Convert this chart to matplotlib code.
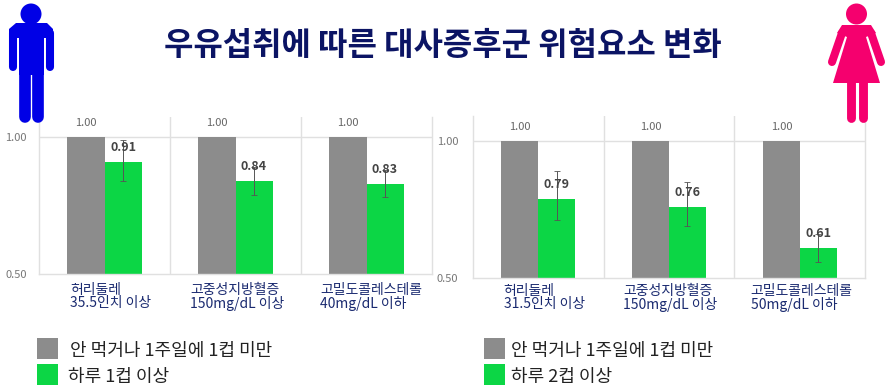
import matplotlib
matplotlib.use('Agg')
import matplotlib.pyplot as plt
from matplotlib.patches import Circle, Polygon, Rectangle
from matplotlib.transforms import ScaledTranslation

plt.rcParams['font.family'] = ['Noto Sans CJK KR', 'DejaVu Sans']

## Data
title = '우유섭취에 따른 대사증후군 위험요소 변화'
ref_values = [1.00, 1.00, 1.00]
men_values = [0.91, 0.84, 0.83]
men_low = [0.84, 0.79, 0.78]
men_high = [0.99, 0.89, 0.88]
women_values = [0.79, 0.76, 0.61]
women_low = [0.71, 0.69, 0.56]
women_high = [0.89, 0.85, 0.66]
men_labels = ['허리둘레\n35.5인치 이상', '고중성지방혈증\n150mg/dL 이상', '고밀도콜레스테롤\n40mg/dL 이하']
women_labels = ['허리둘레\n31.5인치 이상', '고중성지방혈증\n150mg/dL 이상', '고밀도콜레스테롤\n50mg/dL 이하']
ref_legend = '안 먹거나 1주일에 1컵 미만'
men_legend = '하루 1컵 이상'
women_legend = '하루 2컵 이상'

W, H = 889, 387
GRAY = '#8c8c8c'
GREEN = '#0cd645'
GRID = '#e0e0e0'
NAVY = '#1a2a70'


def panel(fig, box, ymax, values, low, high, labels, ytick_pad, xlabel_pad, shifts):
    """ Draw one bar panel, box is (left, top, right, bottom) in pixels. """
    l, t, r, b = box
    ax = fig.add_axes([l / W, 1 - b / H, (r - l) / W, (b - t) / H])
    ax.set_xlim(-0.5, 2.5)
    ax.set_ylim(0.5, ymax)
    xs = [0, 1, 2]
    w = 0.283
    ax.axhline(1.0, color=GRID, lw=1, zorder=1)
    for x in [0.5, 1.5]:
        ax.axvline(x, color=GRID, lw=1, zorder=1)
    ax.bar([x - w / 2 for x in xs], ref_values, w, color=GRAY, zorder=2)
    ax.bar([x + w / 2 for x in xs], values, w, color=GREEN, zorder=2)
    for i, x in enumerate(xs):
        gx = x + w / 2
        ax.errorbar(gx, values[i], yerr=[[values[i] - low[i]], [high[i] - values[i]]],
                    color='#555555', lw=0.7, capsize=2, capthick=0.6, zorder=3)
        ax.text(gx, values[i] + 0.051, f'{values[i]:.2f}', ha='center', va='center',
                fontsize=9, fontweight='bold', color='#444444', zorder=4)
        ax.text(x - 0.14, 1.051, f'{ref_values[i]:.2f}', ha='center', va='center',
                fontsize=8, color='#666666')
    ax.spines['top'].set_visible(False)
    for s in ['left', 'right', 'bottom']:
        ax.spines[s].set_color(GRID)
        ax.spines[s].set_linewidth(1)
    ax.set_yticks([0.5, 1.0], ['0.50', '1.00'], fontsize=8, color='#777777')
    ax.set_xticks(xs, labels, fontsize=10, color=NAVY, linespacing=0.95, ha='center',
                  multialignment='left')
    ax.tick_params(axis='x', length=0, pad=xlabel_pad)
    ax.tick_params(axis='y', length=0, pad=ytick_pad)
    for lab, dx in zip(ax.get_xticklabels(), shifts):
        lab.set_transform(lab.get_transform() + ScaledTranslation(dx / 100, 0, fig.dpi_scale_trans))
    return ax


fig = plt.figure(figsize=(W / 100, H / 100), dpi=100, facecolor='white')
panel(fig, (39, 117, 432, 274), 1.073, men_values, men_low, men_high, men_labels, 9, 6.5, [6, 2, 5])
panel(fig, (473, 116, 865, 278), 1.091, women_values, women_low, women_high, women_labels, 10.5, 4.2, [6, 1, 2])

## Overlay in pixel coordinates for title, icons and legends
ov = fig.add_axes([0, 0, 1, 1], facecolor='none')
ov.set_xlim(0, W)
ov.set_ylim(H, 0)
ov.axis('off')
ov.text(443, 46, title, ha='center', va='center', fontsize=23, fontweight='bold', color='#0b1464')

for x, y, c, s, tx in [(37, 338, GRAY, ref_legend, 70), (37, 364, GREEN, men_legend, 68),
                       (484, 338, GRAY, ref_legend, 511), (484, 364, GREEN, women_legend, 511)]:
    ov.add_patch(Rectangle((x, y), 21, 21, color=c, lw=0))
    ov.text(tx, y + 13, s, ha='left', va='center', fontsize=13, color='#222222')

## Man icon
BLUE = '#0000e6'
ov.add_patch(Circle((31, 14), 10.5, color=BLUE, lw=0))
ov.add_patch(Polygon([(16, 23), (47, 23), (53, 29), (53, 38), (44, 38), (44, 75), (19, 75), (19, 38), (9, 38), (9, 29)],
                     color=BLUE, lw=0))
ov.plot([13, 13], [33, 67], color=BLUE, lw=5.8, solid_capstyle='round')
ov.plot([49.5, 49.5], [33, 67], color=BLUE, lw=5.8, solid_capstyle='round')
ov.plot([25, 25], [70, 117], color=BLUE, lw=8.4, solid_capstyle='round')
ov.plot([38.3, 38.3], [70, 117], color=BLUE, lw=8.4, solid_capstyle='round')

## Woman icon
PINK = '#f5006e'
ov.add_patch(Circle((856.5, 14), 10.5, color=PINK, lw=0))
ov.add_patch(Polygon([(842, 25), (871, 25), (876, 33), (866, 37), (880, 83), (833, 83), (847, 37), (837, 33)],
                     color=PINK, lw=0))
ov.plot([842, 832], [33, 62], color=PINK, lw=5.8, solid_capstyle='round')
ov.plot([871, 881], [33, 62], color=PINK, lw=5.8, solid_capstyle='round')
ov.plot([850.5, 850.5], [80, 118], color=PINK, lw=6.4, solid_capstyle='round')
ov.plot([863, 863], [80, 118], color=PINK, lw=6.4, solid_capstyle='round')

fig.savefig('out.png', dpi=100)
